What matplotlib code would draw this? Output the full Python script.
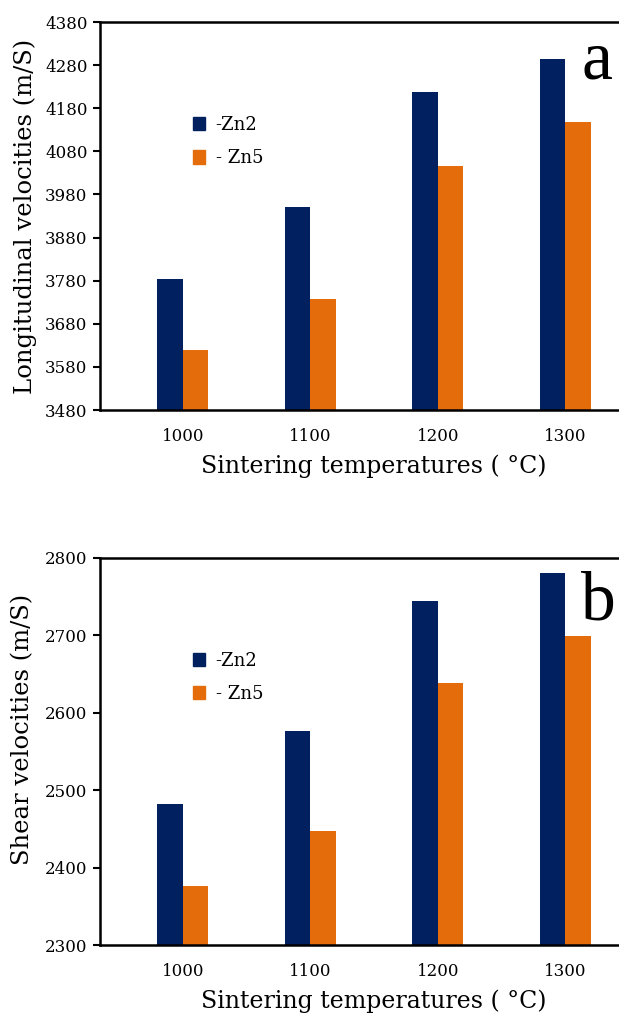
"""Longitudinal and shear velocities vs sintering temperature."""

import matplotlib

matplotlib.use("Agg")
import matplotlib.pyplot as plt
import numpy as np
from matplotlib.patches import Patch

temps = ["1000", "1100", "1200", "1300"]
long_zn2 = [3785, 3950, 4217, 4295]
long_zn5 = [3620, 3737, 4045, 4149]
shear_zn2 = [2482, 2577, 2745, 2780]
shear_zn5 = [2376, 2447, 2638, 2699]
series_labels = ["-Zn2", "- Zn5"]

NAVY = "#00205F"
ORANGE = "#E46C0A"

plt.rcParams["font.family"] = ["DejaVu Serif"]

fig = plt.figure(figsize=(6.19, 10.17), dpi=100)
W, H = 619, 1017


def make_axes(top_px, bottom_px):
    # right edge runs past the figure, as in the cropped original
    left, right = 100, 648
    return fig.add_axes([left / W, 1 - bottom_px / H, (right - left) / W, (bottom_px - top_px) / H])


def draw_panel(ax, zn2, zn5, ylim, yticks, ylabel, letter, label_x, label_y, letter_y):
    x = np.arange(len(temps))
    w = 0.2
    ax.bar(x - w / 2, zn2, w, color=NAVY, label=series_labels[0])
    ax.bar(x + w / 2, zn5, w, color=ORANGE, label=series_labels[1])
    ax.set_xlim(-0.65, len(temps) - 1 + 0.65)
    ax.set_ylim(*ylim)
    ax.set_yticks(yticks)
    ax.set_xticks(x, temps)
    ax.tick_params(axis="x", length=0, pad=13, labelsize=12)
    ax.tick_params(axis="y", length=5, width=1.5, direction="out", labelsize=12, pad=4)
    for side in ("left", "bottom", "top"):
        ax.spines[side].set_linewidth(1.8)
    ax.spines["right"].set_visible(False)
    ax.set_xlabel("Sintering temperatures ( °C)", fontsize=17)
    ax.set_ylabel(ylabel, fontsize=17.5)
    ax.yaxis.set_label_coords(label_x, label_y)
    ax.xaxis.set_label_coords(0.5, -0.115)
    handles = [Patch(color=NAVY), Patch(color=ORANGE)]
    ax.legend(handles, series_labels, loc="upper left", bbox_to_anchor=(0.14, 0.80),
              frameon=False, fontsize=13, handlelength=0.65, handleheight=0.75,
              handletextpad=0.6, labelspacing=0.85)
    ax.text(0.878, letter_y, letter, transform=ax.transAxes, fontsize=50,
            va="baseline", family="Liberation Serif")


ax1 = make_axes(22, 410)
draw_panel(ax1, long_zn2, long_zn5, (3480, 4380), np.arange(3480, 4381, 100),
           "Longitudinal velocities (m/S)", "a", -0.115, 0.5, 0.855)

ax2 = make_axes(558, 945)
draw_panel(ax2, shear_zn2, shear_zn5, (2300, 2800), np.arange(2300, 2801, 100),
           "Shear velocities (m/S)", "b", -0.12, 0.556, 0.84)

fig.savefig("out.png", dpi=100)
plt.close(fig)
